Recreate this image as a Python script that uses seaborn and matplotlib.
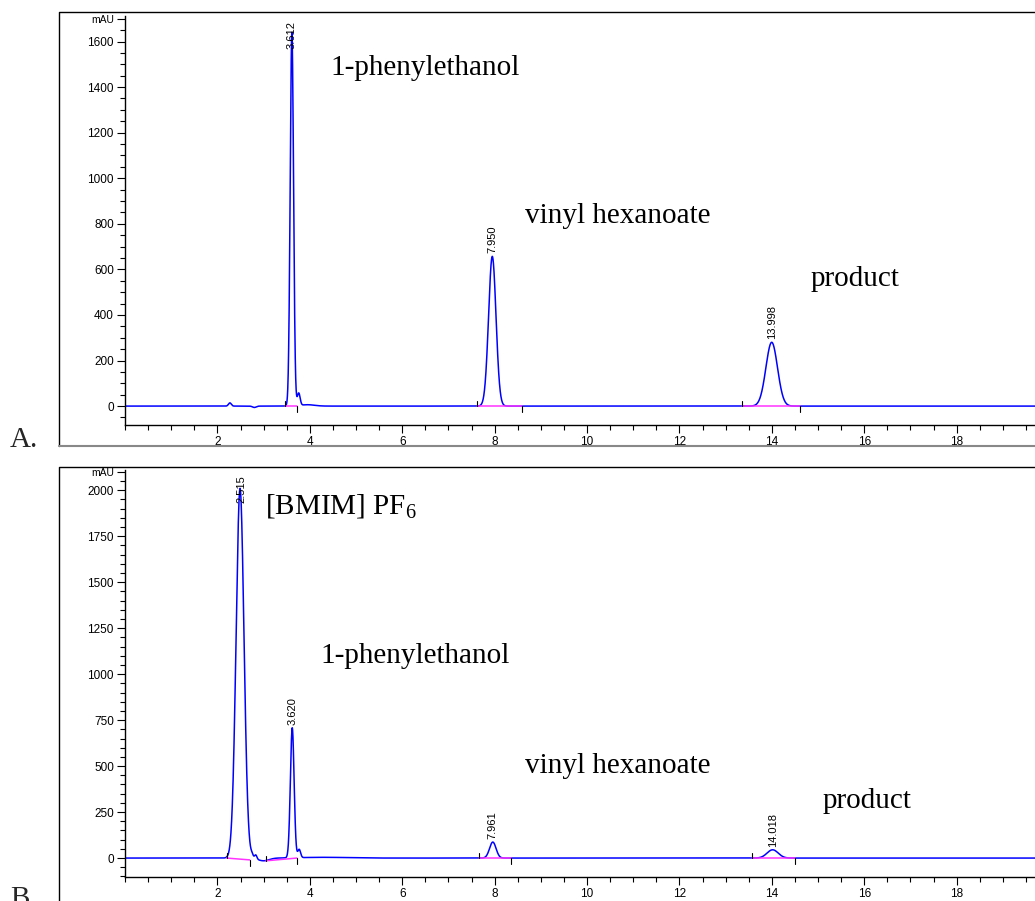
import numpy as np
import pandas as pd
import matplotlib
matplotlib.use("Agg")
import matplotlib.pyplot as plt
from matplotlib.lines import Line2D
from matplotlib.ticker import MultipleLocator, FixedLocator
import seaborn as sns

# ---------------- data ----------------
# Panel A peaks: retention time (min), height (mAU), width sigma (min)
a_rt    = [2.27, 2.80, 3.612, 3.76, 3.95, 7.950, 13.998]
a_h     = [14, -6, 1640, 55, 6, 657, 280]
a_sig   = [0.03, 0.04, 0.036, 0.03, 0.15, 0.08, 0.125]
a_lab_rt = [3.612, 7.950, 13.998]
a_lab_h  = [1640, 657, 280]
a_lab    = ["3.612", "7.950", "13.998"]
a_int_start = [3.47, 7.62, 13.35]
a_int_end   = [3.73, 8.60, 14.62]
a_int_y0    = [0, 0, 0]
a_int_y1    = [0, 0, 0]

# Panel B peaks
b_rt    = [2.49, 2.75, 2.83, 3.00, 3.620, 3.77, 4.3, 7.961, 14.018]
b_h     = [2010, 15, 22, -15, 707, 45, 4, 87, 45]
b_sig   = [0.085, 0.025, 0.025, 0.12, 0.04, 0.03, 0.5, 0.07, 0.12]
b_lab_rt = [2.515, 3.620, 7.961, 14.018]
b_lab_h  = [2010, 707, 87, 45]
b_lab    = ["2.515", "3.620", "7.961", "14.018"]
b_int_start = [2.20, 3.05, 7.66, 13.57]
b_int_end   = [2.70, 3.72, 8.35, 14.50]
b_int_y0    = [0, -15, 0, 0]
b_int_y1    = [-10, 0, 0, 0]

a_texts = ["1-phenylethanol", "vinyl hexanoate", "product"]
a_text_x = [4.45, 8.66, 14.83]
a_text_y = [1452, 803, 526]
b_texts = [r"[BMIM] PF$_\mathregular{6}$", "1-phenylethanol", "vinyl hexanoate", "product"]
b_text_x = [3.03, 4.22, 8.66, 15.09]
b_text_y = [1870, 1060, 462, 272]

a_yticks = [0, 200, 400, 600, 800, 1000, 1200, 1400, 1600]
b_yticks = [0, 250, 500, 750, 1000, 1250, 1500, 1750, 2000]
x_ticks = [2, 4, 6, 8, 10, 12, 14, 16, 18, 20]
x_ticklabels = ["2", "4", "6", "8", "10", "12", "14", "16", "18", "min"]

# ---------------- build traces ----------------
t = np.linspace(0, 20, 8001)

def trace(rts, hs, sigs):
    y = np.zeros_like(t)
    for r, h, s in zip(rts, hs, sigs):
        y += h * np.exp(-0.5 * ((t - r) / s) ** 2)
    return y

dfA = pd.DataFrame({"time": t, "signal": trace(a_rt, a_h, a_sig)})
dfB = pd.DataFrame({"time": t, "signal": trace(b_rt, b_h, b_sig)})

# ---------------- style ----------------
sns.set_style("ticks")
plt.rcParams["font.family"] = ["Liberation Sans", "DejaVu Sans"]
plt.rcParams["mathtext.fontset"] = "custom"
plt.rcParams["mathtext.rm"] = "Liberation Serif"

W, H = 1035, 901
fig = plt.figure(figsize=(W / 100, H / 100), dpi=100)

def px(x0, y_top, x1, y_bot):
    return [x0 / W, 1 - y_bot / H, (x1 - x0) / W, (y_bot - y_top) / H]

axA = fig.add_axes(px(125, 16, 125 + 20 * 46.2, 425))
axB = fig.add_axes(px(125, 470, 125 + 20 * 46.2, 877))

serif = ["Liberation Serif", "DejaVu Serif"]

def setup(ax, df, ylim, yticks, top_tick, minor, labs_rt, labs_h, labs,
          i0, i1, y0, y1, texts, tx, ty, ax_px_h):
    sns.lineplot(data=df, x="time", y="signal", ax=ax, color="#0000ff",
                 lw=1.1, estimator=None, sort=False)
    ax.set_xlim(0, 20)
    ax.set_ylim(*ylim)
    ppu = ax_px_h / (ylim[1] - ylim[0])
    # integration baselines and event ticks
    for s, e, ys, ye in zip(i0, i1, y0, y1):
        ax.plot([s, e], [ys, ye], color="#ff33ff", lw=1.1, zorder=3)
        ax.plot([s, s], [ys, ys + 5 / ppu], color="black", lw=0.8, zorder=4)
        ax.plot([e, e], [ye, ye - 6 / ppu], color="black", lw=0.8, zorder=4)
    # peak labels
    span = 30 / ppu
    for r, h, l in zip(labs_rt, labs_h, labs):
        yb = min(h + 3 / ppu, ylim[1] - 3 / ppu - span)
        ax.text(r, yb, l, rotation=90, ha="center", va="bottom",
                fontsize=8, color="black")
    for s, x, y in zip(texts, tx, ty):
        ax.text(x, y, s, ha="left", va="baseline", fontsize=21,
                family=serif, color="black")
    ax.yaxis.set_major_locator(FixedLocator(yticks + [top_tick]))
    ax.set_yticklabels([str(v) for v in yticks] + ["mAU"])
    ax.yaxis.set_minor_locator(MultipleLocator(minor))
    ax.set_xticks(x_ticks)
    ax.set_xticklabels(x_ticklabels)
    ax.xaxis.set_minor_locator(MultipleLocator(0.5))
    ax.tick_params(axis="both", which="major", direction="out", length=6,
                   width=0.8, labelsize=8.5, colors="black", pad=2)
    ax.tick_params(axis="both", which="minor", direction="out", length=3.5,
                   width=0.8, colors="black")
    for lab in ax.get_yticklabels():
        if lab.get_text() == "mAU":
            lab.set_fontsize(7.5)
    ax.set_xlabel("")
    ax.set_ylabel("")
    sns.despine(ax=ax, top=True, right=True)
    for side in ("left", "bottom"):
        ax.spines[side].set_linewidth(1.0)
        ax.spines[side].set_color("black")
    ax.set_facecolor("white")

setup(axA, dfA, (-83, 1712), a_yticks, 1700, 50, a_lab_rt, a_lab_h, a_lab,
      a_int_start, a_int_end, a_int_y0, a_int_y1, a_texts, a_text_x, a_text_y, 409)
setup(axB, dfB, (-103, 2110), b_yticks, 2100, 50, b_lab_rt, b_lab_h, b_lab,
      b_int_start, b_int_end, b_int_y0, b_int_y1, b_texts, b_text_x, b_text_y, 407)

# outer frames
def fl(xs, ys, color="black", lw=1.0):
    fig.add_artist(Line2D([x / W for x in xs], [1 - y / H for y in ys],
                          transform=fig.transFigure, color=color, lw=lw))

fl([59, 59, 1035], [446, 12, 12])
fl([59, 1035], [446, 446], color="#888888", lw=1.5)
fl([59, 59, 1035], [901, 467, 467])

fig.text(10 / W, 1 - 447 / H, "A.", family=serif, fontsize=21, va="baseline")
fig.text(10 / W, 1 - 906 / H, "B.", family=serif, fontsize=21, va="baseline")

fig.savefig("out.png", dpi=100, facecolor="white")
